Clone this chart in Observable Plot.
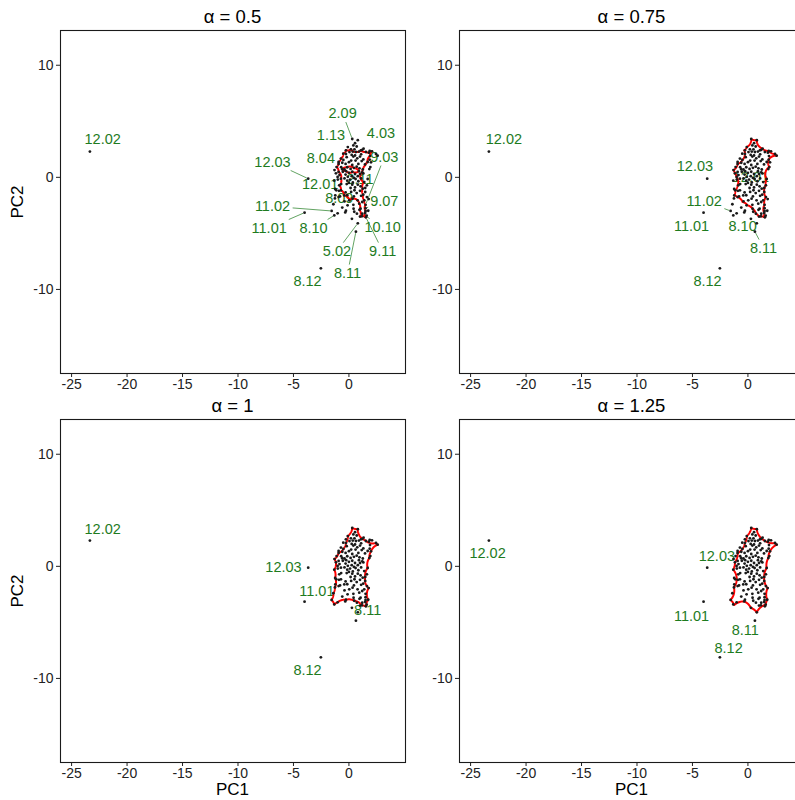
<!DOCTYPE html>
<html><head><meta charset="utf-8">
<script src="https://cdn.jsdelivr.net/npm/d3@7"></script>
<script src="https://cdn.jsdelivr.net/npm/@observablehq/plot@0.6"></script>
<style>
html,body{margin:0;padding:0;overflow:hidden;background:#fff;}
#wrap{position:relative;width:795px;height:800px;overflow:hidden;font-family:"Liberation Sans",Arial,sans-serif;color:#000;}
.panel{position:absolute;width:410px;height:403px;}
.title{position:absolute;font-size:18.5px;transform:translate(-50%,-50%);white-space:nowrap;}
.ylab{position:absolute;font-size:17px;transform:translate(-50%,-50%) rotate(-90deg);white-space:nowrap;}
.xlab{position:absolute;font-size:17px;transform:translate(-50%,-50%);white-space:nowrap;}
</style></head>
<body><div id="wrap"></div>
<script>
// ---------------- data ----------------
const alphaValues = [0.5, 0.75, 1, 1.25];
const xTicks = [-25, -20, -15, -10, -5, 0];
const yTicks = [-10, 0, 10];

// far outliers
const outlierIds = ["12.02", "12.03", "11.01", "8.11", "8.12"];
const outlierPC1 = [-23.35, -3.67, -4.0, 0.63, -2.53];
const outlierPC2 = [2.3, -0.12, -3.15, -4.85, -8.12];

// named points of the main cloud
const namedIds = ["2.09", "4.03", "1.13", "8.04", "12.01", "2.11", "9.03", "9.07", "8.09", "11.02", "8.10", "10.10", "5.02", "9.11"];
const namedPC1 = [0.3, 0.8, -0.1, -1.3, 0.25, 1.0, 1.5, 1.5, -0.12, -1.56, -1.32, 1.2, 0.8, 1.53];
const namedPC2 = [3.42, 3.32, 2.7, 0.65, 0.1, 0.3, -2.45, -2.75, -2.5, -3.0, -3.4, -3.25, -4.1, -3.57];

// other points of the main cloud
const clusterPts = [
[0.55,3.05],[0.4,2.85],[0.7,2.75],[0.5,2.5],[1.2,2.45],[0.05,2.25],
[0.35,2.3],[0.9,2.3],[1.1,2.05],[1.8,2.2],[0.25,2.0],[0.55,1.95],
[-0.2,1.8],[0.4,1.85],[0.75,1.7],[1.0,1.85],[1.3,1.6],[0.2,1.5],[0.6,1.5],[1.15,1.45],
[-0.6,1.3],[-0.3,1.2],[0.0,1.35],[0.3,1.1],[0.85,1.2],[1.45,1.15],[0.7,0.95],
[-0.7,0.9],[-0.4,0.7],[0.15,0.75],[0.45,0.85],[0.95,0.8],[1.25,0.7],[0.3,0.5],[-0.55,0.5],
[-0.85,0.2],[-0.3,0.25],[0.0,0.4],[0.55,0.3],[0.8,0.1],[1.3,0.35],[-0.1,0.05],[0.45,-0.05],
[-1.0,-0.2],[-0.4,-0.1],[-0.15,-0.3],[0.1,-0.2],[0.35,-0.45],[0.6,-0.15],[0.85,-0.35],[1.1,-0.1],[0.0,-0.5],
[-0.7,-0.6],[-0.2,-0.6],[0.3,-0.65],[0.55,-0.9],[0.8,-0.65],[1.05,-0.8],[0.15,-0.95],
[-0.9,-1.2],[-0.3,-1.35],[0.2,-1.3],[0.5,-1.15],[1.0,-1.2],[0.7,-1.4],
[-0.8,-1.7],[-0.15,-1.6],[0.45,-1.7],[1.1,-1.65],
[-0.4,-2.15],[0.4,-2.45],[1.2,-2.2],
[-0.6,-2.7],[1.05,-2.8]
];

// alpha-hull boundary vertices
const hull050 = [[-0.27,2.41],[0.18,2.5],[0.63,2.26],[1.08,2.41],[1.53,2.26],[2.08,2.32],[1.9,1.9],[1.69,1.37],[1.47,1.07],[1.29,0.78],[1.2,0.45],[1.38,-0.42],[1.24,-1.01],[1.29,-1.55],[1.38,-2.05],[1.5,-2.45],[1.5,-3.0],[1.53,-3.57],[1.0,-3.5],[0.95,-2.9],[0.93,-2.35],[0.78,-2.05],[0.33,-1.9],[0.03,-2.05],[-0.42,-1.61],[-0.72,-1.16],[-0.87,-0.71],[-0.72,-0.12],[-0.93,0.48],[-1.11,0.92],[-0.93,1.37],[-0.72,1.67],[-0.51,2.11]];
const hole050 = [[-0.6,0.72],[-0.15,0.9],[0.45,0.82],[0.9,0.55],[0.35,0.48],[-0.25,0.55]];
const hull075 = [[0.3,3.42],[0.8,3.32],[1.32,2.56],[1.87,2.35],[2.44,2.08],[2.59,1.93],[1.87,1.58],[1.93,0.92],[1.69,-0.15],[1.62,-0.71],[1.47,-1.31],[1.62,-1.76],[1.5,-2.45],[1.47,-3.18],[1.53,-3.57],[1.0,-3.5],[0.72,-3.24],[0.42,-2.8],[-0.03,-2.5],[-0.48,-2.2],[-0.93,-1.76],[-1.23,-1.61],[-1.14,-1.16],[-0.93,-0.71],[-1.02,0.03],[-1.17,0.36],[-1.3,0.65],[-0.93,1.19],[-0.5,1.55],[-0.33,2.41],[-0.1,2.7]];
const hull100 = [[0.3,3.42],[0.8,3.32],[1.47,2.32],[2.44,2.08],[2.59,1.93],[1.99,1.34],[1.84,0.74],[1.69,-0.15],[1.47,-0.95],[1.78,-1.94],[1.74,-2.98],[1.53,-3.57],[1.17,-3.48],[0.48,-3.07],[-0.27,-2.98],[-1.02,-3.21],[-1.32,-3.4],[-1.56,-3.0],[-1.4,-2.4],[-1.26,-1.88],[-1.24,-1.04],[-1.32,-0.3],[-1.17,0.36],[-1.3,0.65],[-0.93,1.19],[-0.5,1.55],[-0.27,2.08],[-0.1,2.7]];
const hull125 = [[0.3,3.42],[0.8,3.32],[1.47,2.32],[2.44,2.08],[2.59,1.93],[1.99,1.34],[1.84,0.74],[1.69,-0.15],[1.47,-0.95],[1.78,-1.94],[1.74,-2.98],[1.6,-3.42],[0.8,-4.1],[0.27,-3.7],[-0.33,-3.13],[-1.23,-3.45],[-1.56,-3.0],[-1.26,-1.88],[-1.32,-0.3],[-1.17,0.36],[-0.93,1.19],[-0.5,1.55],[-0.27,2.08],[-0.1,2.7]];

// labels: [id, label PC1, label PC2, leader line shown]
const labels050 = [["12.02",-22.2,3.39,0],["2.09",-0.57,5.69,1],["1.13",-1.62,3.75,0],["4.03",2.89,3.9,0],["12.03",-6.89,1.37,1],["8.04",-2.53,1.67,0],["9.03",3.19,1.81,1],["12.01",-2.59,-0.63,0],["2.11",1.0,-0.15,0],["11.02",-6.89,-2.59,1],["8.09",-0.87,-1.9,0],["9.07",3.19,-2.14,1],["11.01",-7.19,-4.52,1],["8.10",-3.19,-4.52,1],["10.10",3.04,-4.44,1],["5.02",-1.08,-6.58,1],["9.11",3.04,-6.58,1],["8.11",-0.12,-8.54,1],["8.12",-3.73,-9.29,0]];
const labels075 = [["12.02",-22.0,3.39,0],["12.03",-4.78,1.01,0],["12.01",0.27,-0.03,0],["11.02",-3.94,-2.12,1],["11.01",-5.08,-4.38,0],["8.10",-0.48,-4.38,0],["8.11",1.41,-6.31,1],["8.12",-3.64,-9.29,0]];
const labels100 = [["12.02",-22.2,3.3,0],["12.03",-5.9,-0.06,0],["11.01",-2.89,-2.23,0],["8.11",1.69,-3.93,0],["8.12",-3.73,-9.25,0]];
const labels125 = [["12.02",-23.47,1.16,0],["12.03",-2.8,0.89,0],["11.01",-5.08,-4.46,0],["8.11",-0.24,-5.74,0],["8.12",-1.74,-7.35,0]];

// ---------------- build ----------------
const GREEN = "#1e7b1e";
const FONT = "'Liberation Sans', Arial, sans-serif";
const LABEL_SIZE = 14.5;
const xDomain = [-26, 5.1], yDomain = [-17.5, 13.1];
const W = 410, H = 403, ML = 60, MR = 5, MT = 30, MB = 30;
const kx = (W - ML - MR) / (xDomain[1] - xDomain[0]);
const ky = (H - MT - MB) / (yDomain[1] - yDomain[0]);

const pointIndex = new Map();
outlierIds.forEach((id, i) => pointIndex.set(id, [outlierPC1[i], outlierPC2[i]]));
namedIds.forEach((id, i) => pointIndex.set(id, [namedPC1[i], namedPC2[i]]));

// all observation dots (deduplicated)
const dots = [];
function addDot(p) {
  for (const q of dots) if (Math.hypot(q[0] - p[0], q[1] - p[1]) < 0.12) return;
  dots.push([p[0], p[1]]);
}
pointIndex.forEach(p => addDot(p));
clusterPts.forEach(addDot);
[hull050, hole050, hull075, hull100, hull125].forEach(r => r.forEach(addDot));

function arcRing(ring, r, isHole, id) {
  let A = 0;
  for (let i = 0; i < ring.length; i++) {
    const a = ring[i], b = ring[(i + 1) % ring.length];
    A += a[0] * b[1] - b[0] * a[1];
  }
  let s = A > 0 ? 1 : -1;
  if (isHole) s = -s;
  const out = [];
  for (let i = 0; i < ring.length; i++) {
    const a = ring[i], b = ring[(i + 1) % ring.length];
    const dx = b[0] - a[0], dy = b[1] - a[1], d = Math.hypot(dx, dy);
    if (d >= 2 * r * 0.999 || d === 0) { out.push({x: a[0], y: a[1], id}); continue; }
    const nx = -dy / d, ny = dx / d;
    const h = Math.sqrt(r * r - (d / 2) * (d / 2));
    const cx = (a[0] + b[0]) / 2 - s * h * nx, cy = (a[1] + b[1]) / 2 - s * h * ny;
    const ta = Math.atan2(a[1] - cy, a[0] - cx), tb = Math.atan2(b[1] - cy, b[0] - cx);
    let dt = tb - ta;
    while (dt > Math.PI) dt -= 2 * Math.PI;
    while (dt <= -Math.PI) dt += 2 * Math.PI;
    const N = 14;
    for (let k = 0; k < N; k++) {
      const t = ta + dt * k / N;
      out.push({x: cx + r * Math.cos(t), y: cy + r * Math.sin(t), id});
    }
  }
  out.push({...out[0]});
  return out;
}

function textWidth(s) {
  let w = 0;
  for (const c of s) w += (c === "." ? 0.278 : 0.556) * LABEL_SIZE;
  return w;
}

function leaders(labels) {
  const segs = [];
  for (const [id, lx, ly, show] of labels) {
    if (!show) continue;
    const p = pointIndex.get(id);
    const dxp = (p[0] - lx) * kx, dyp = (p[1] - ly) * ky;
    const hw = textWidth(id) / 2 + 2, hh = 8.5;
    const t = Math.min(Math.abs(dxp) > 0 ? hw / Math.abs(dxp) : Infinity, Math.abs(dyp) > 0 ? hh / Math.abs(dyp) : Infinity);
    if (t >= 1) continue;
    const len = Math.hypot(dxp, dyp);
    const t2 = 1 - 1.5 / len;
    segs.push({x1: lx + (p[0] - lx) * t, y1: ly + (p[1] - ly) * t, x2: lx + (p[0] - lx) * t2, y2: ly + (p[1] - ly) * t2});
  }
  return segs;
}

const panels = [
  {alpha: alphaValues[0], rings: [[hull050, false], [hole050, true]], labels: labels050, left: 0, top: 0, ylab: true, xlab: false},
  {alpha: alphaValues[1], rings: [[hull075, false]], labels: labels075, left: 399, top: 0, ylab: false, xlab: false},
  {alpha: alphaValues[2], rings: [[hull100, false]], labels: labels100, left: 0, top: 389, ylab: true, xlab: true},
  {alpha: alphaValues[3], rings: [[hull125, false]], labels: labels125, left: 399, top: 389, ylab: false, xlab: true}
];

const wrap = document.getElementById("wrap");
panels.forEach((pn) => {
  const hullPts = pn.rings.flatMap(([ring, hole], ri) => arcRing(ring, pn.alpha, hole, ri));
  const labelData = pn.labels.map(([id, lx, ly]) => ({id, x: lx, y: ly}));
  const chart = Plot.plot({
    width: W, height: H, marginLeft: ML, marginRight: MR, marginTop: MT, marginBottom: MB,
    style: {background: "transparent", maxWidth: "none", overflow: "visible", fontFamily: FONT, fontSize: "14px", color: "#222"},
    x: {domain: xDomain, label: null},
    y: {domain: yDomain, label: null},
    marks: [
      Plot.axisX({ticks: xTicks, tickSize: 4, tickPadding: 2, tickFormat: d => String(d), label: null, fontSize: 14}),
      Plot.axisY({ticks: yTicks, tickSize: 4, tickPadding: 3, tickFormat: d => String(d), label: null, fontSize: 14}),
      Plot.link(leaders(pn.labels), {x1: "x1", y1: "y1", x2: "x2", y2: "y2", stroke: GREEN, strokeWidth: 0.7}),
      Plot.text(labelData, {x: "x", y: "y", text: "id", fill: GREEN, fontSize: LABEL_SIZE, fontFamily: FONT}),
      Plot.line(hullPts, {x: "x", y: "y", z: "id", stroke: "#ff0000", strokeWidth: 2, curve: "linear"}),
      Plot.dot(dots, {x: d => d[0], y: d => d[1], r: 1.4, fill: "#1a1a1a", stroke: "none"}),
      Plot.frame({stroke: "#1a1a1a", strokeWidth: 1.1})
    ]
  });
  const div = document.createElement("div");
  div.className = "panel";
  div.style.left = pn.left + "px";
  div.style.top = pn.top + "px";
  div.appendChild(chart);
  wrap.appendChild(div);

  const cx = pn.left + ML + (W - ML - MR) / 2;
  const t = document.createElement("div");
  t.className = "title";
  t.textContent = "α = " + pn.alpha;
  t.style.left = cx + "px";
  t.style.top = (pn.top + 17) + "px";
  wrap.appendChild(t);
  if (pn.ylab) {
    const y = document.createElement("div");
    y.className = "ylab";
    y.textContent = "PC2";
    y.style.left = "18px";
    y.style.top = (pn.top + MT + (H - MT - MB) / 2) + "px";
    wrap.appendChild(y);
  }
  if (pn.xlab) {
    const x = document.createElement("div");
    x.className = "xlab";
    x.textContent = "PC1";
    x.style.left = cx + "px";
    x.style.top = "790px";
    wrap.appendChild(x);
  }
});
</script>
</body></html>
